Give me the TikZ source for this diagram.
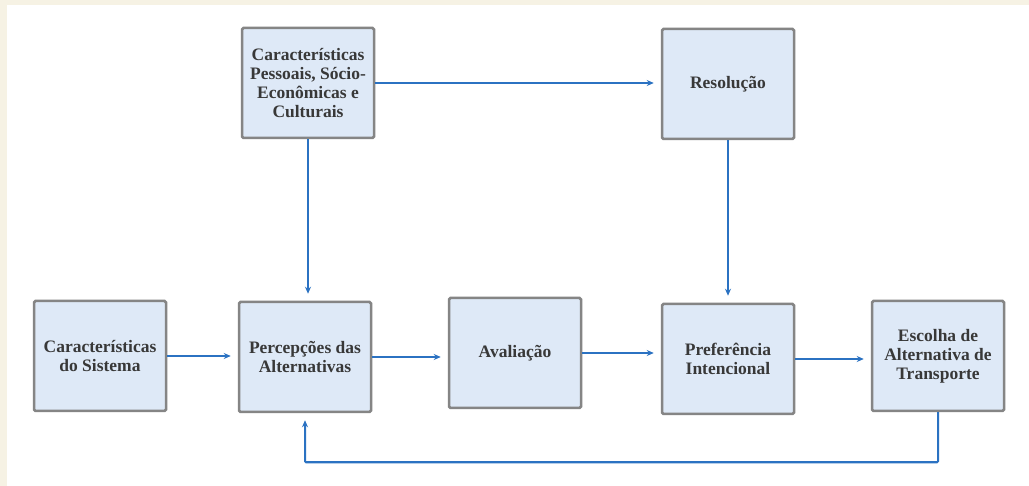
\documentclass[tikz,border=0pt]{standalone}
\usepackage{fontspec}
\setmainfont{Liberation Serif}
\usetikzlibrary{arrows.meta}
\definecolor{boxfill}{HTML}{DEE9F7}
\definecolor{boxline}{HTML}{858585}
\definecolor{linkblue}{HTML}{2B72C2}
\definecolor{cream}{HTML}{F6F2E4}
\begin{document}
\begin{tikzpicture}[x=1pt,y=-1pt,
    box/.style={draw=boxline,line width=2.5pt,fill=boxfill,rounded corners=1.5pt,
        minimum width=132pt,minimum height=110pt,align=center,inner sep=2pt,
        text=black!78,font=\bfseries\fontsize{17.5}{19}\selectfont},
    link/.style={draw=linkblue,line width=2pt,-{Stealth[length=7pt,width=6pt]},shorten >=7pt}]
    \fill[cream] (0,0) rectangle (1029,486);
    \fill[white] (7,5) rectangle (1029,486);
    \node[box] (pess) at (308,83) {Características\\Pessoais, Sócio-\\Econômicas e\\Culturais};
    \node[box] (res) at (728,84) {Resolução};
    \node[box] (sist) at (100,356) {Características\\do Sistema};
    \node[box] (perc) at (305,357) {Percepções das\\Alternativas};
    \node[box] (aval) at (515,353) {Avaliação};
    \node[box] (pref) at (728,359) {Preferência\\Intencional};
    \node[box] (esc) at (938,356) {Escolha de\\Alternativa de\\Transporte};
    \draw[link] (pess.east) -- (pess.east -| res.west);
    \draw[link] (pess.south) -- (pess.south |- perc.north);
    \draw[link] (res.south) -- (res.south |- pref.north);
    \draw[link] (sist.east) -- (sist.east -| perc.west);
    \draw[link] (perc.east) -- (perc.east -| aval.west);
    \draw[link] (aval.east) -- (aval.east -| pref.west);
    \draw[link] (pref.east) -- (pref.east -| esc.west);
    \draw[link,rounded corners=1pt] (esc.south) -- ++(0,50) -| (perc.south);
\end{tikzpicture}
\end{document}
